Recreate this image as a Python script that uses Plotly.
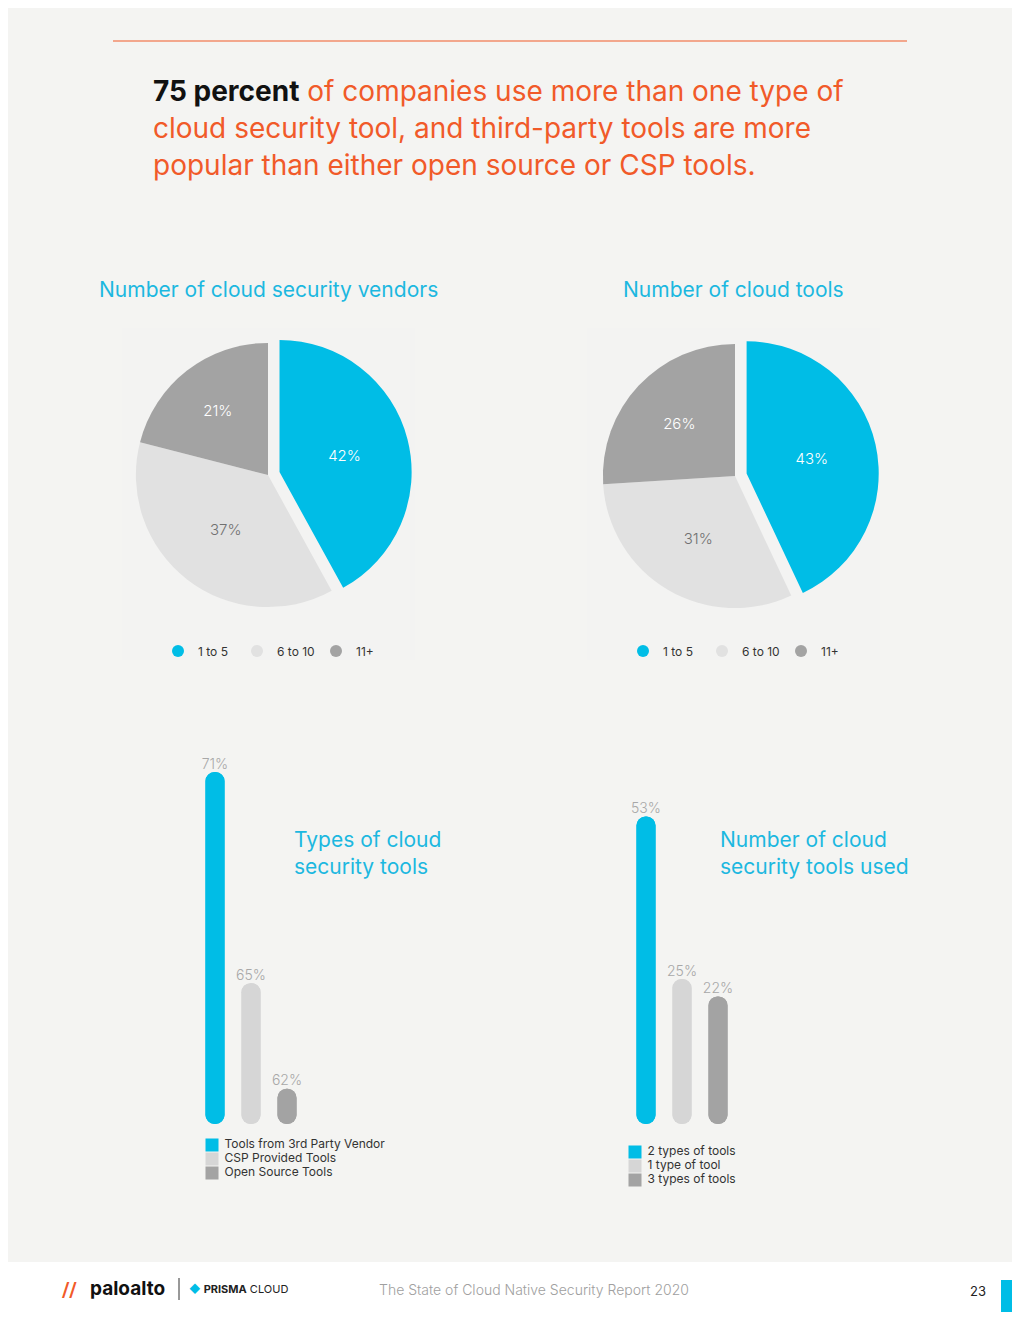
import plotly.graph_objects as go

# pie data
sliceLabels = ["1 to 5", "6 to 10", "11+"]
vendorValues = [42, 37, 21]
cloudToolValues = [43, 31, 26]

# bar data
typeLabels = ["Tools from 3rd Party Vendor", "CSP Provided Tools", "Open Source Tools"]
typeValues = [71, 65, 62]
usedLabels = ["2 types of tools", "1 type of tool", "3 types of tools"]
usedValues = [53, 25, 22]

# the page body has an 8px margin, so the figure is drawn inside it
OFF = 8
W, H = 1020 - 2 * OFF, 1320 - 2 * OFF
BLUE = "#00BDE6"
LIGHT = "#E1E1E1"
BAR_LIGHT = "#D6D6D6"
DARK = "#A3A3A3"
ORANGE = "#F15A29"
TITLE_BLUE = "#1CB8E0"
BG = "#F4F4F2"
PANEL = "#F3F3F2"
FONT = "Inter"


def px(x):
    return (x - OFF) / W


def py(y):
    return 1 - (y - OFF) / H


fig = go.Figure()

# pies
pieSpecs = [
    (vendorValues, [124, 412], [331, 619], "legend"),
    (cloudToolValues, [591, 879], [332, 620], "legend2"),
]
for vals, xd, yd, leg in pieSpecs:
    fig.add_trace(go.Pie(
        values=vals,
        labels=sliceLabels,
        sort=False,
        direction="clockwise",
        rotation=0,
        pull=[0.09, 0, 0],
        marker=dict(colors=[BLUE, LIGHT, DARK], line=dict(width=0)),
        texttemplate="%{value}%",
        textposition="inside",
        insidetextfont=dict(color=["white", "#707070", "white"], size=15, family=FONT, weight=300),
        domain=dict(x=[px(xd[0]), px(xd[1])], y=[py(yd[1]), py(yd[0])]),
        showlegend=False,
        hoverinfo="label+value",
    ))
    # circle legend entries
    for lab, col in zip(sliceLabels, [BLUE, LIGHT, DARK]):
        fig.add_trace(go.Scatter(
            x=[None], y=[None], mode="markers", name=lab,
            marker=dict(symbol="circle", size=12, color=col),
            legend=leg, xaxis="x5", yaxis="y5", hoverinfo="skip",
        ))

# bars with rounded ends, plus a square key under each chart
barSpecs = [
    (typeLabels, typeValues, 61, "x", "y", "x3", "y3"),
    (usedLabels, usedValues, 0, "x2", "y2", "x4", "y4"),
]
barColors = [BLUE, BAR_LIGHT, DARK]
for labels, vals, floor, xa, ya, kx, ky in barSpecs:
    for lab, v, col in zip(labels, vals, barColors):
        fig.add_trace(go.Bar(
            x=[lab], y=[v - floor], base=[floor], width=0.53, name=lab,
            marker=dict(color=col, cornerradius="50%", line=dict(width=0)),
            showlegend=False, xaxis=xa, yaxis=ya, hoverinfo="skip",
        ))
        fig.add_trace(go.Bar(
            x=[lab], y=[floor - v], base=[v], width=0.53, name=lab,
            marker=dict(color=col, cornerradius="50%", line=dict(width=0)),
            showlegend=False, xaxis=xa, yaxis=ya, hoverinfo="skip",
        ))
    fig.add_trace(go.Scatter(
        x=labels, y=vals, mode="text", text=[f"{v}%" for v in vals],
        textposition="top center",
        textfont=dict(color="#A8A8A8", size=14, family=FONT, weight=300),
        showlegend=False, xaxis=xa, yaxis=ya, hoverinfo="skip",
    ))
    fig.add_trace(go.Scatter(
        x=["key"] * len(labels), y=labels, mode="markers+text",
        marker=dict(symbol="square", size=13, color=barColors),
        text=[" " + lab for lab in labels], textposition="middle right",
        textfont=dict(color="#333333", size=12, family=FONT),
        showlegend=False, xaxis=kx, yaxis=ky, hoverinfo="skip", cliponaxis=False,
    ))

annotations = []


def note(text, x, y, size, color, xanchor="left", yanchor="middle", family=FONT, weight=None):
    f = dict(size=size, color=color, family=family)
    if weight:
        f["weight"] = weight
    annotations.append(dict(
        text=text, x=px(x), y=py(y), xref="paper", yref="paper",
        xanchor=xanchor, yanchor=yanchor, showarrow=False, align="left",
        font=f,
    ))


note("<b>75 percent</b> <span style='color:%s'>of companies use more than one type of</span>" % ORANGE,
     151, 91, 28, "#111111")
note("cloud security tool, and third-party tools are more", 151, 128, 28, ORANGE)
note("popular than either open source or CSP tools.", 151, 165, 28, ORANGE)

note("Number of cloud security vendors", 97, 289, 21, TITLE_BLUE)
note("Number of cloud tools", 621, 289, 21, TITLE_BLUE)
note("Types of cloud<br>security tools", 292, 853, 21, TITLE_BLUE)
note("Number of cloud<br>security tools used", 718, 853, 21, TITLE_BLUE)

# footer
note("The State of Cloud Native Security Report 2020", 534, 1289, 14, "#A0A0A0", xanchor="center",
     weight=300)
note("23", 978, 1291, 13, "#222222", xanchor="center")
note("<b>//</b>", 60, 1289, 20, ORANGE, family="DejaVu Sans")
note("<b>paloalto</b>", 88, 1288, 19, "#111111")
note("<span style='color:%s'>◆</span> <b>PRISMA</b> CLOUD" % BLUE, 187, 1289, 11, "#222222")

shapes = [
    dict(type="rect", xref="paper", yref="paper", x0=px(122), x1=px(415), y0=py(660), y1=py(328),
         fillcolor=PANEL, line=dict(width=0), layer="below"),
    dict(type="rect", xref="paper", yref="paper", x0=px(587), x1=px(880), y0=py(660), y1=py(328),
         fillcolor=PANEL, line=dict(width=0), layer="below"),
    dict(type="line", xref="paper", yref="paper", x0=px(113), x1=px(907), y0=py(41), y1=py(41),
         line=dict(color=ORANGE, width=1)),
    dict(type="rect", xref="paper", yref="paper", x0=0, x1=1, y0=0, y1=py(1262),
         fillcolor="white", line=dict(width=0), layer="below"),
    dict(type="rect", xref="paper", yref="paper", x0=px(1001), x1=1, y0=0, y1=py(1280),
         fillcolor=BLUE, line=dict(width=0)),
    dict(type="line", xref="paper", yref="paper", x0=px(179), x1=px(179), y0=py(1278), y1=py(1300),
         line=dict(color="#333333", width=1)),
]

legendBase = dict(font=dict(size=12, color="#333333", family=FONT), bgcolor="rgba(0,0,0,0)",
                  traceorder="normal", orientation="h", yanchor="middle", xanchor="left",
                  entrywidth=34, itemwidth=30)
hidden = dict(visible=False, fixedrange=True)

fig.update_layout(
    width=W, height=H,
    margin=dict(l=0, r=0, t=0, b=0),
    paper_bgcolor=BG, plot_bgcolor="rgba(0,0,0,0)",
    barmode="overlay",
    font=dict(family=FONT),
    showlegend=True,
    xaxis=dict(hidden, type="category", domain=[px(197), px(305)], range=[-0.5, 2.5]),
    yaxis=dict(hidden, domain=[py(1124), py(740)], range=[61, 61 + 384 / 35.2]),
    xaxis2=dict(hidden, type="category", domain=[px(628), px(736)], range=[-0.5, 2.5]),
    yaxis2=dict(hidden, anchor="x2", domain=[py(1124), py(740)], range=[0, 384 / 5.8]),
    xaxis3=dict(hidden, type="category", anchor="y3", domain=[px(206), px(218)], range=[-0.5, 0.5]),
    yaxis3=dict(hidden, type="category", anchor="x3", domain=[py(1180), py(1138)], range=[2.5, -0.5]),
    xaxis4=dict(hidden, type="category", anchor="y4", domain=[px(629), px(641)], range=[-0.5, 0.5]),
    yaxis4=dict(hidden, type="category", anchor="x4", domain=[py(1187), py(1145)], range=[2.5, -0.5]),
    xaxis5=dict(hidden, anchor="y5", domain=[0, 0.01]),
    yaxis5=dict(hidden, anchor="x5", domain=[0, 0.01]),
    legend=dict(legendBase, x=px(158), y=py(651)),
    legend2=dict(legendBase, x=px(623), y=py(651)),
    annotations=annotations,
    shapes=shapes,
)

fig.write_html("out.html")
